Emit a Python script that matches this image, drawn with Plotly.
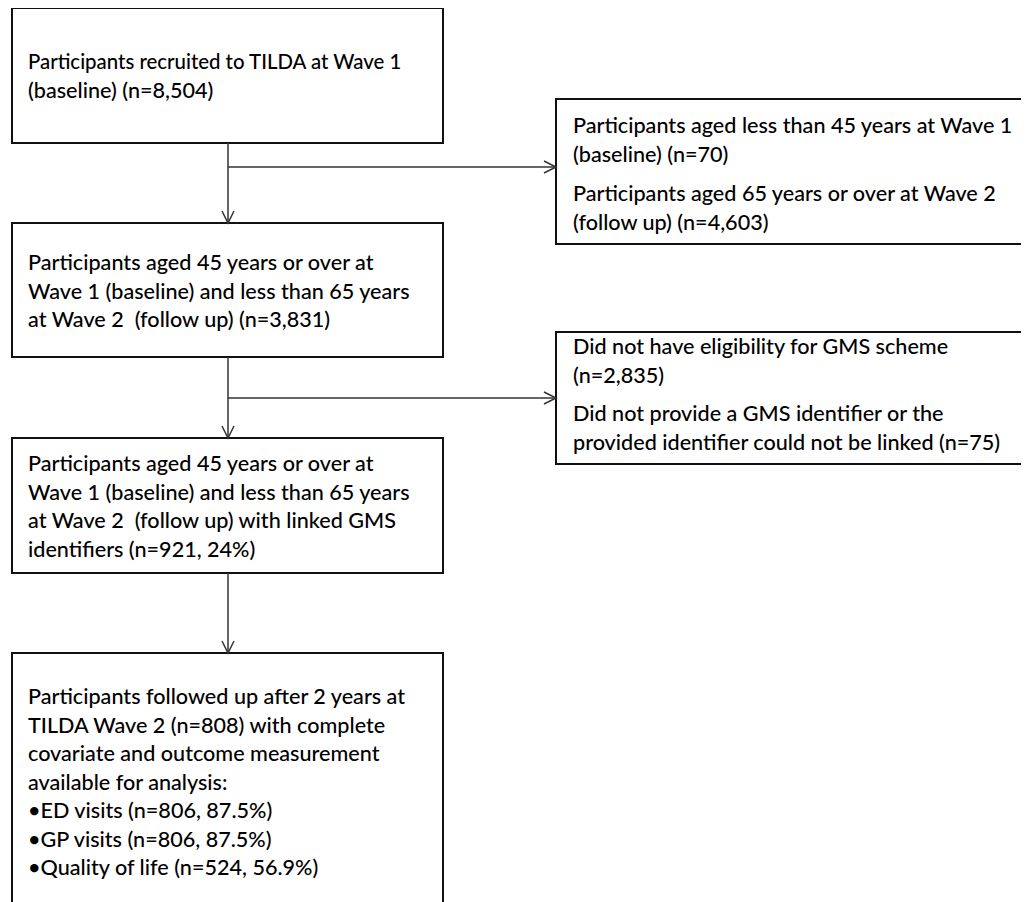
import plotly.graph_objects as go

# ---------------- data (text content of the flow chart) ----------------
main_texts = [
    ["Participants recruited to TILDA at Wave 1",
     "(baseline) (n=8,504)"],
    ["Participants aged 45 years or over at",
     "Wave 1 (baseline) and less than 65 years",
     "at Wave 2 \u00a0(follow up) (n=3,831)"],
    ["Participants aged 45 years or over at",
     "Wave 1 (baseline) and less than 65 years",
     "at Wave 2 \u00a0(follow up) with linked GMS",
     "identifiers (n=921, 24%)"],
    ["Participants followed up after 2 years at",
     "TILDA Wave 2 (n=808) with complete",
     "covariate and outcome measurement",
     "available for analysis:",
     "\u2022ED visits (n=806, 87.5%)",
     "\u2022GP visits (n=806, 87.5%)",
     "\u2022Quality of life (n=524, 56.9%)"],
]
excl_texts = [
    [["Participants aged less than 45 years at Wave 1", "(baseline) (n=70)"],
     ["Participants aged 65 years or over at Wave 2", "(follow up) (n=4,603)"]],
    [["Did not have eligibility for GMS scheme", "(n=2,835)"],
     ["Did not provide a GMS identifier or the",
      "provided identifier could not be linked (n=75)"]],
]

# ---------------- layout geometry (page pixel coordinates) ----------------
W, H = 1029, 902
PAGE_MARGIN = 8          # default body margin of the html page
MX0, MX1 = 12, 443
main_y = [(8, 143), (223, 357), (438, 573), (653, 920)]
main_first = [61, 262, 463, 696]
EX0, EX1 = 556, 1045
excl_y = [(99, 244), (332, 464)]
excl_first = [(125, 193), (346, 413)]
branch_y = [167, 398]
LS = 28.5
VX = 228
FONT_FAMILY = "Lato, Carlito, Calibri, sans-serif"
FONT_SIZE = 21.6
BOX_LINE = dict(color="#111111", width=2)
CONN = dict(color="#333333", width=1.5)

fig = go.Figure()
fig.add_trace(go.Scatter(x=[PAGE_MARGIN, W], y=[PAGE_MARGIN, H], mode="markers",
                         marker=dict(opacity=0), hoverinfo="skip", showlegend=False))

shapes = []
annotations = []


def add_text(x, y, txt, size=FONT_SIZE):
    annotations.append(dict(x=x, y=y, xref="x", yref="y", text=txt, showarrow=False,
                            xanchor="left", yanchor="middle", align="left",
                            font=dict(family=FONT_FAMILY, size=size, color="#000000",
                                      weight=500)))


# main boxes
for b, ((y0, y1), first, lines) in enumerate(zip(main_y, main_first, main_texts)):
    shapes.append(dict(type="rect", x0=MX0, x1=MX1, y0=y0, y1=y1, xref="x", yref="y",
                       line=BOX_LINE, fillcolor="rgba(0,0,0,0)"))
    for i, t in enumerate(lines):
        size = 20.4 if (b == 0 and i == 0) else FONT_SIZE
        add_text(MX0 + 14, first + i * LS, t, size)

# exclusion boxes
for (y0, y1), firsts, paras in zip(excl_y, excl_first, excl_texts):
    shapes.append(dict(type="rect", x0=EX0, x1=EX1, y0=y0, y1=y1, xref="x", yref="y",
                       line=BOX_LINE, fillcolor="rgba(0,0,0,0)"))
    for f, para in zip(firsts, paras):
        for i, t in enumerate(para):
            add_text(EX0 + 15, f + i * LS, t)


def down_arrow(x, y0, y1):
    shapes.append(dict(type="line", x0=x, x1=x, y0=y0, y1=y1, xref="x", yref="y", line=CONN))
    shapes.append(dict(type="path", path=f"M {x-6},{y1-12} L {x},{y1} L {x+6},{y1-12}",
                       xref="x", yref="y", line=CONN))


def right_arrow(x0, x1, y):
    shapes.append(dict(type="line", x0=x0, x1=x1, y0=y, y1=y, xref="x", yref="y", line=CONN))
    shapes.append(dict(type="path", path=f"M {x1-12},{y-6} L {x1},{y} L {x1-12},{y+6}",
                       xref="x", yref="y", line=CONN))


for k in range(3):
    down_arrow(VX, main_y[k][1], main_y[k + 1][0])
for by in branch_y:
    right_arrow(VX, EX0, by)

fig.update_layout(
    width=W - PAGE_MARGIN, height=H - PAGE_MARGIN, margin=dict(l=0, r=0, t=0, b=0),
    paper_bgcolor="white", plot_bgcolor="white",
    xaxis=dict(range=[PAGE_MARGIN, W], visible=False, fixedrange=True),
    yaxis=dict(range=[H, PAGE_MARGIN], visible=False, fixedrange=True),
    shapes=shapes, annotations=annotations, showlegend=False,
)
fig.write_html("out.html", config={"displayModeBar": False})
